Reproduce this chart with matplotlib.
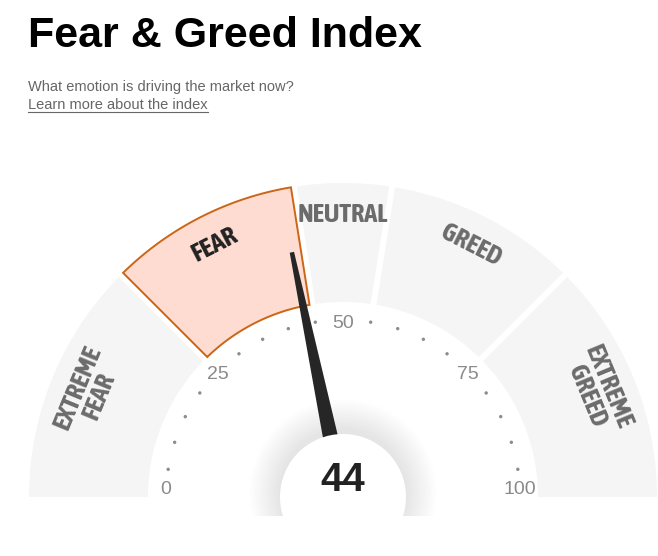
import numpy as np
import matplotlib
matplotlib.use("Agg")
import matplotlib.pyplot as plt
from matplotlib import font_manager
from matplotlib.patches import Polygon, Circle, Rectangle

# ---------------- data ----------------
title = "Fear & Greed Index"
subtitle = "What emotion is driving the market now?"
link_text = "Learn more about the index"
segment_names = ["EXTREME\nFEAR", "FEAR", "NEUTRAL", "GREED", "EXTREME\nGREED"]
segment_bounds = [0, 25, 45, 55, 75, 100]
highlight = "FEAR"
current_value = 44
tick_labels = [0, 25, 50, 75, 100]
dot_values = [v for v in range(5, 100, 5) if v % 25 != 0]

# ---------------- style / geometry ----------------
W, H = 658, 556
CX, CY = 343, 497
R_OUT, R_IN = 314, 195
GAP = 6
R_TICK = 177
R_TEXT = 283
SEG_COLOR = "#f5f5f5"
HL_FILL = "#ffdcd1"
HL_EDGE = "#cc6515"
LABEL_GRAY = "#6b6b6b"
NEUTRAL_WIDTH_PX = 90  # target width of the "NEUTRAL" label

names = {f.name for f in font_manager.fontManager.ttflist}
SANS = "Liberation Sans" if "Liberation Sans" in names else "DejaVu Sans"

# find a condensed / narrow bold face if one is installed (prefer mild condensing)
stretch_rank = {"semi-condensed": 0, "condensed": 1, "extra-condensed": 2,
                "ultra-condensed": 3}
cond_family, cond_stretch = "DejaVu Sans", "normal"
cands = []
for f in font_manager.fontManager.ttflist:
    st = str(f.stretch)
    narrow = "Narrow" in f.name or "Condensed" in f.name or st in stretch_rank
    if narrow:
        w = f.weight if isinstance(f.weight, (int, float)) else 400
        rank = stretch_rank.get(st, 1)
        cands.append((rank, abs(w - 700), f.name, f.stretch))
if cands:
    cands.sort()
    _, _, cond_family, cond_stretch = cands[0]

fig = plt.figure(figsize=(W / 100, H / 100), dpi=100)
ax = fig.add_axes([0, 0, 1, 1])
ax.set_xlim(0, W)
ax.set_ylim(H, 0)
ax.set_aspect("equal")
ax.axis("off")

# size the condensed label font so "NEUTRAL" has the reference width
renderer = fig.canvas.get_renderer()
probe = ax.text(0, 0, "NEUTRAL", fontsize=20, fontweight="bold",
                family=cond_family, fontstretch=cond_stretch)
pw = probe.get_window_extent(renderer).width
probe.remove()
cond_size = min(20 * NEUTRAL_WIDTH_PX / pw, 19.5)


def ang(v):
    return np.pi * (1 - v / 100.0)


def pt(r, a):
    return CX + r * np.cos(a), CY - r * np.sin(a)


def seg_poly(v0, v1):
    a0, a1 = ang(v0), ang(v1)
    d = GAP / 2
    do0 = 0 if v0 == 0 else d
    do1 = 0 if v1 == 100 else d
    o_start = a0 - np.arcsin(do0 / R_OUT)
    o_end = a1 + np.arcsin(do1 / R_OUT)
    i_start = a0 - np.arcsin(do0 / R_IN)
    i_end = a1 + np.arcsin(do1 / R_IN)
    outer = np.linspace(o_start, o_end, 120)
    inner = np.linspace(i_end, i_start, 120)
    pts = [pt(R_OUT, a) for a in outer] + [pt(R_IN, a) for a in inner]
    return np.array(pts)


# segments
for name, v0, v1 in zip(segment_names, segment_bounds[:-1], segment_bounds[1:]):
    is_hl = name == highlight
    poly = Polygon(seg_poly(v0, v1), closed=True,
                   facecolor=HL_FILL if is_hl else SEG_COLOR,
                   edgecolor=HL_EDGE if is_hl else "none",
                   linewidth=1.4 if is_hl else 0, joinstyle="miter", zorder=2)
    ax.add_patch(poly)
    am = ang((v0 + v1) / 2)
    rt = R_TEXT - (7 if "\n" in name else 0)
    x, y = pt(rt, am)
    ax.text(x, y, name, rotation=np.degrees(am) - 90, rotation_mode="anchor",
            ha="center", va="center", fontsize=cond_size, fontweight="bold",
            family=cond_family, fontstretch=cond_stretch,
            color="#222222" if is_hl else LABEL_GRAY,
            linespacing=0.9, zorder=3)

# tick dots
for v in dot_values:
    x, y = pt(R_TICK, ang(v))
    ax.add_patch(Circle((x, y), 1.7, color="#8c8c8c", zorder=3, lw=0))

# tick labels
for v in tick_labels:
    x, y = pt(R_TICK, ang(v))
    if v in (0, 100):
        y -= 8
    else:
        y += 3
    ax.text(x, y, str(v), ha="center", va="center", fontsize=14,
            family=SANS, color="#8a8a8a", zorder=3)

# soft shadow around central dial
clip = Rectangle((0, 0), W, 516, transform=ax.transData)
for r in np.linspace(64, 94, 26):
    c = Circle((CX, CY - 4), r, facecolor="#000000", edgecolor="none",
               alpha=0.0022, zorder=4)
    ax.add_patch(c)
    c.set_clip_path(clip)

# needle
a = ang(current_value) + np.radians(1.0)
r0, r1 = 62, 250
w0, w1 = 7.5, 2.2
nx, ny = -np.sin(a), -np.cos(a)  # perpendicular direction in screen coords
bx, by = pt(r0, a)
tx, ty = pt(r1, a)
needle = Polygon([(bx + w0 * nx, by + w0 * ny), (tx + w1 * nx, ty + w1 * ny),
                  (tx - w1 * nx, ty - w1 * ny), (bx - w0 * nx, by - w0 * ny)],
                 closed=True, facecolor="#262626", edgecolor="none", zorder=5)
ax.add_patch(needle)

# central dial
ax.add_patch(Circle((CX, CY), 63, facecolor="white", edgecolor="none", zorder=6))
ax.text(CX, 480, str(current_value), ha="center", va="center", fontsize=29,
        fontweight="bold", family=SANS, color="#222222", zorder=7)

# header texts
ax.text(28, 47, title, ha="left", va="baseline", fontsize=31, fontweight="bold",
        family=SANS, color="#000000")
ax.text(28, 91, subtitle, ha="left", va="baseline", fontsize=10.5,
        family=SANS, color="#666666")
lt = ax.text(28, 109, link_text, ha="left", va="baseline", fontsize=10.5,
             family=SANS, color="#666666")
fig.canvas.draw()
bb = lt.get_window_extent().transformed(ax.transData.inverted())
ax.plot([bb.x0, bb.x1], [111.5, 111.5], color="#666666", lw=0.8)

fig.savefig("out.png", dpi=100)
